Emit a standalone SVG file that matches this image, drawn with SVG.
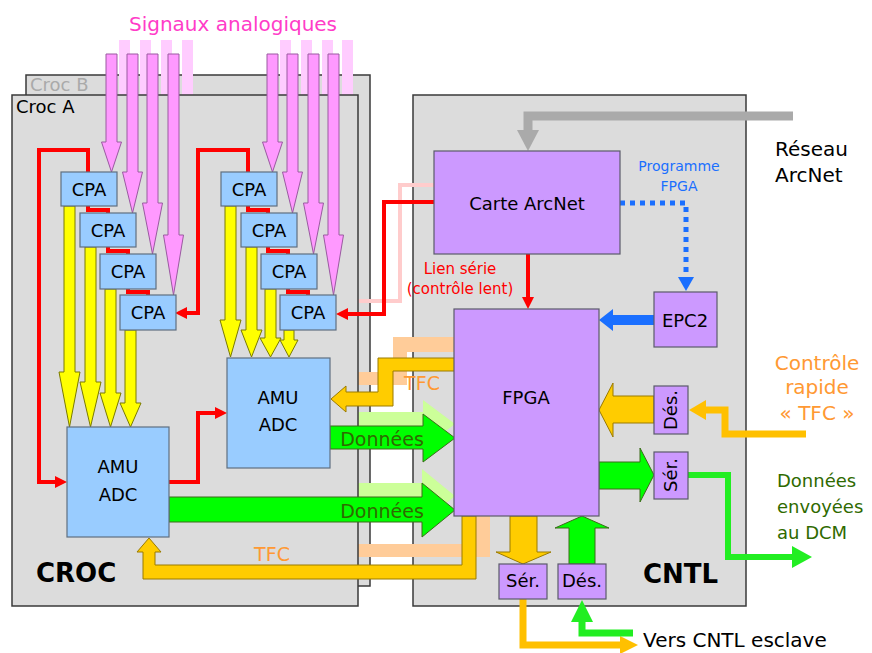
<svg xmlns="http://www.w3.org/2000/svg" width="872" height="653" viewBox="0 0 872 653">
<defs>
<style>
text{font-family:"DejaVu Sans","Noto Sans",sans-serif}
.box{fill:#dcdcdc;stroke:#3a3a3a;stroke-width:1.5}
.cpa{fill:#99ccff;stroke:#5f6f80;stroke-width:1.2}
.pur{fill:#cc99ff;stroke:#5a5a6a;stroke-width:1.2}
.pink{fill:#ff99ff;stroke:#9a5aa0;stroke-width:1}
.lpink{fill:#ffccff}
.yel{fill:#ffff00;stroke:#7a7a00;stroke-width:1}
.grn{fill:#00ff00;stroke:#3d6b1a;stroke-width:1}
.lgrn{fill:#ccff99}
.org{fill:#ffcc00;stroke:#9a7a00;stroke-width:1}
.peach{fill:#ffcc99}
.red{fill:none;stroke:#ff0000;stroke-width:4}
.t{font-size:18px;fill:#000;text-anchor:middle}
.big{font-size:26px;font-weight:bold;fill:#000}
.dg{font-size:19px;fill:#2f6a00;text-anchor:middle}
.or{fill:#ff9933;text-anchor:middle}
</style>
<marker id="rh" markerUnits="userSpaceOnUse" markerWidth="12" markerHeight="12" refX="4" refY="6" orient="auto">
<path d="M0,0 L12,6 L0,12 z" fill="#ff0000"/>
</marker>
</defs>

<!-- back boxes -->
<g id="croc-b"><rect class="box" x="26" y="75" width="344" height="511"/><text x="30" y="91" font-size="18" fill="#aaaaaa">Croc B</text></g>
<g id="cntl"><rect class="box" x="413" y="95" width="333" height="511"/><text class="big" x="643" y="583">CNTL</text></g>

<!-- ghost (Croc B) signals -->
<g id="ghosts">
<rect class="lpink" x="119" y="40" width="11" height="60"/>
<rect class="lpink" x="140" y="40" width="11" height="60"/>
<rect class="lpink" x="161" y="40" width="11" height="60"/>
<rect class="lpink" x="182" y="40" width="11" height="60"/>
<rect class="lpink" x="280" y="40" width="11" height="60"/>
<rect class="lpink" x="301" y="40" width="11" height="60"/>
<rect class="lpink" x="322" y="40" width="11" height="60"/>
<rect class="lpink" x="342" y="40" width="11" height="60"/>
<polyline points="434,185 400,185 400,301 350,301" fill="none" stroke="#ffcccc" stroke-width="4"/>
<polygon class="lgrn" points="350,412 423,412 423,400 455,424 423,448 423,435 350,435"/>
<polygon class="lgrn" points="350,483 422,483 422,469 455,496 422,523 422,508 350,508"/>
<polygon class="peach" points="455,337 393,337 393,372 350,372 350,385 407,385 407,352 455,352"/>
<polygon class="peach" points="476,510 490,510 490,557 350,557 350,544 476,544"/>
</g>

<g id="croc-a"><rect class="box" x="12" y="95" width="346" height="511"/><text x="16" y="113" font-size="18" fill="#000">Croc A</text><text class="big" x="36" y="582">CROC</text></g>

<!-- connectors -->
<g id="connectors">
<!-- pink analog signals -->
<polygon class="pink" points="106,54 117,54 117,142 121.5,142 111.5,172 101.5,142 106,142"/>
<polygon class="pink" points="127,54 138,54 138,172 142.5,172 132.5,213 122.5,172 127,172"/>
<polygon class="pink" points="147,54 158,54 158,203 162.5,203 152.5,254 142.5,203 147,203"/>
<polygon class="pink" points="168,54 179,54 179,235 183.5,235 173.5,295 163.5,235 168,235"/>
<polygon class="pink" points="267,54 278,54 278,142 282.5,142 272.5,172 262.5,142 267,142"/>
<polygon class="pink" points="287,54 298,54 298,172 302.5,172 292.5,213 282.5,172 287,172"/>
<polygon class="pink" points="308,54 319,54 319,203 323.5,203 313.5,254 303.5,203 308,203"/>
<polygon class="pink" points="328,54 339,54 339,235 343.5,235 333.5,295 323.5,235 328,235"/>
<!-- yellow CPA to AMU -->
<polygon class="yel" points="64,206 75,206 75,372 80,372 69.5,427 59,372 64,372"/>
<polygon class="yel" points="85,247 96,247 96,382 101,382 90.5,427 80,382 85,382"/>
<polygon class="yel" points="105,289 116,289 116,393 121,393 110.5,427 100,393 105,393"/>
<polygon class="yel" points="125,330 136,330 136,403 141,403 130.5,427 120,403 125,403"/>
<polygon class="yel" points="225,206 236,206 236,320 241,320 230.5,357 220,320 225,320"/>
<polygon class="yel" points="246,247 257,247 257,330 262,330 251.5,357 241,330 246,330"/>
<polygon class="yel" points="265,289 276,289 276,338 281,338 270.5,357 260,338 265,338"/>
<polygon class="yel" points="284,330 294,330 294,340 298,340 289,357 280,340 284,340"/>
<!-- red slow control chain -->
<polyline class="red" points="88,172 88,150 39,150 39,482 59,482" marker-end="url(#rh)"/>
<polyline class="red" points="88,206 88,210 108,210 108,213"/>
<polyline class="red" points="108,247 108,251 128,251 128,254"/>
<polyline class="red" points="128,289 128,292 148,292 148,295"/>
<polyline class="red" points="248,172 248,150 198,150 198,313 183,313" marker-end="url(#rh)"/>
<polyline class="red" points="248,206 248,210 268,210 268,213"/>
<polyline class="red" points="268,247 268,251 288,251 288,254"/>
<polyline class="red" points="288,289 288,292 308,292 308,295"/>
<polyline class="red" points="169,482 198,482 198,413 219,413" marker-end="url(#rh)"/>
<polyline class="red" points="434,202 384,202 384,314 344,314" marker-end="url(#rh)"/>
<polyline class="red" points="528,254 528,301" marker-end="url(#rh)"/>
<!-- TFC orange -->
<polygon class="org" points="455,358 378,358 378,392 346,392 346,386 331,399 346,412 346,406 393,406 393,371 455,371"/>
<polygon class="org" points="476,516 476,579 143,579 143,552 137,552 149,538 161,552 155,552 155,565 462,565 462,516"/>
<!-- data green -->
<polygon class="grn" points="330,426 423,426 423,414 455,438 423,462 423,449 330,449"/>
<polygon class="grn" points="169,497 422,497 422,483 455,510 422,537 422,522 169,522"/>
<!-- ArcNet gray -->
<polyline points="793,116 528,116 528,131" fill="none" stroke="#aaaaaa" stroke-width="9"/>
<polygon points="517,130 539,130 528,151" fill="#aaaaaa"/>
<!-- blue programme -->
<polyline points="620,203 686,203 686,278" fill="none" stroke="#1a6fff" stroke-width="5" stroke-dasharray="5,5"/>
<polygon points="678,277 694,277 686,291" fill="#1a6fff"/>
<polygon points="654,315 613,315 613,309 599,320 613,331 613,325 654,325" fill="#1a6fff"/>
<!-- right side -->
<polygon class="org" points="654,396 613,396 613,383 599,410 613,437 613,423 654,423"/>
<polyline points="806,434 725,434 725,410 705,410" fill="none" stroke="#ffc000" stroke-width="7"/>
<polygon points="706,400 689,410 706,420" fill="#ffc000"/>
<polygon class="grn" points="599,462 640,462 640,448 654,475 640,502 640,489 599,489"/>
<polyline points="688,475 728,475 728,557 793,557" fill="none" stroke="#22ee22" stroke-width="6"/>
<polygon points="792,546 812,557 792,568" fill="#22ee22"/>
<!-- bottom -->
<polygon class="org" points="510,516 537,516 537,552 551,552 523,564 496,552 510,552"/>
<polygon class="grn" points="569,564 595,564 595,528 609,528 582,516 555,528 569,528"/>
<polyline points="523,599 523,645 621,645" fill="none" stroke="#ffc000" stroke-width="7"/>
<polygon points="620,636 638,645 620,654" fill="#ffc000"/>
<polyline points="582,621 582,633 633,633" fill="none" stroke="#22ee22" stroke-width="7"/>
<polygon points="571,622 582,600 593,622" fill="#22ee22"/>
</g>

<!-- nodes -->
<g id="cpa-a1"><rect class="cpa" x="61" y="172" width="56" height="34"/><text class="t" x="89" y="196">CPA</text></g>
<g id="cpa-a2"><rect class="cpa" x="80" y="213" width="56" height="34"/><text class="t" x="108" y="237">CPA</text></g>
<g id="cpa-a3"><rect class="cpa" x="100" y="254" width="56" height="35"/><text class="t" x="128" y="278">CPA</text></g>
<g id="cpa-a4"><rect class="cpa" x="120" y="295" width="56" height="35"/><text class="t" x="148" y="319">CPA</text></g>
<g id="cpa-b1"><rect class="cpa" x="221" y="172" width="56" height="34"/><text class="t" x="249" y="196">CPA</text></g>
<g id="cpa-b2"><rect class="cpa" x="241" y="213" width="56" height="34"/><text class="t" x="269" y="237">CPA</text></g>
<g id="cpa-b3"><rect class="cpa" x="261" y="254" width="56" height="35"/><text class="t" x="289" y="278">CPA</text></g>
<g id="cpa-b4"><rect class="cpa" x="280" y="295" width="56" height="35"/><text class="t" x="308" y="319">CPA</text></g>
<g id="amu1"><rect class="cpa" x="67" y="427" width="102" height="110"/><text class="t" x="118" y="473" font-size="21">AMU</text><text class="t" x="118" y="501" font-size="21">ADC</text></g>
<g id="amu2"><rect class="cpa" x="227" y="358" width="103" height="110"/><text class="t" x="278" y="404" font-size="21">AMU</text><text class="t" x="278" y="431" font-size="21">ADC</text></g>
<g id="carte-arcnet"><rect class="pur" x="434" y="151" width="186" height="103"/><text class="t" x="527" y="210" font-size="19">Carte ArcNet</text></g>
<g id="fpga"><rect class="pur" x="454" y="309" width="145" height="207"/><text class="t" x="526" y="404" font-size="19">FPGA</text></g>
<g id="epc2"><rect class="pur" x="654" y="292" width="63" height="55"/><text class="t" x="685" y="327" font-size="20">EPC2</text></g>
<g id="des-tfc"><rect class="pur" x="654" y="386" width="34" height="48"/><text class="t" font-size="15" transform="translate(677,410) rotate(-90)">Dés.</text></g>
<g id="ser-dcm"><rect class="pur" x="654" y="452" width="34" height="47"/><text class="t" font-size="15" transform="translate(677,475) rotate(-90)">Sér.</text></g>
<g id="ser-bas"><rect class="pur" x="499" y="564" width="48" height="35"/><text class="t" font-size="15" x="523" y="587">Sér.</text></g>
<g id="des-bas"><rect class="pur" x="558" y="564" width="48" height="35"/><text class="t" font-size="15" x="582" y="587">Dés.</text></g>

<!-- labels -->
<g id="labels">
<text x="233" y="31" font-size="20" fill="#ff3cc8" text-anchor="middle">Signaux analogiques</text>
<text class="dg" x="382" y="446">Données</text>
<text class="dg" x="382" y="518">Données</text>
<text class="or" x="422" y="390" font-size="19">TFC</text>
<text class="or" x="272" y="561" font-size="19">TFC</text>
<text x="679" y="171" font-size="14" fill="#1a6fff" text-anchor="middle">Programme</text>
<text x="679" y="191" font-size="14" fill="#1a6fff" text-anchor="middle">FPGA</text>
<text x="460" y="274" font-size="15" fill="#ff0000" text-anchor="middle">Lien série</text>
<text x="460" y="294" font-size="15" fill="#ff0000" text-anchor="middle">(contrôle lent)</text>
<text x="775" y="156" font-size="20" fill="#000">Réseau</text>
<text x="775" y="182" font-size="20" fill="#000">ArcNet</text>
<text class="or" x="817" y="370" font-size="20">Contrôle</text>
<text class="or" x="817" y="394" font-size="20">rapide</text>
<text class="or" x="817" y="420" font-size="20">« TFC »</text>
<text x="777" y="487" font-size="18" fill="#2f6a00">Données</text>
<text x="777" y="513" font-size="18" fill="#2f6a00">envoyées</text>
<text x="777" y="539" font-size="18" fill="#2f6a00">au DCM</text>
<text x="643" y="647" font-size="20" fill="#000">Vers CNTL esclave</text>
</g>
</svg>
